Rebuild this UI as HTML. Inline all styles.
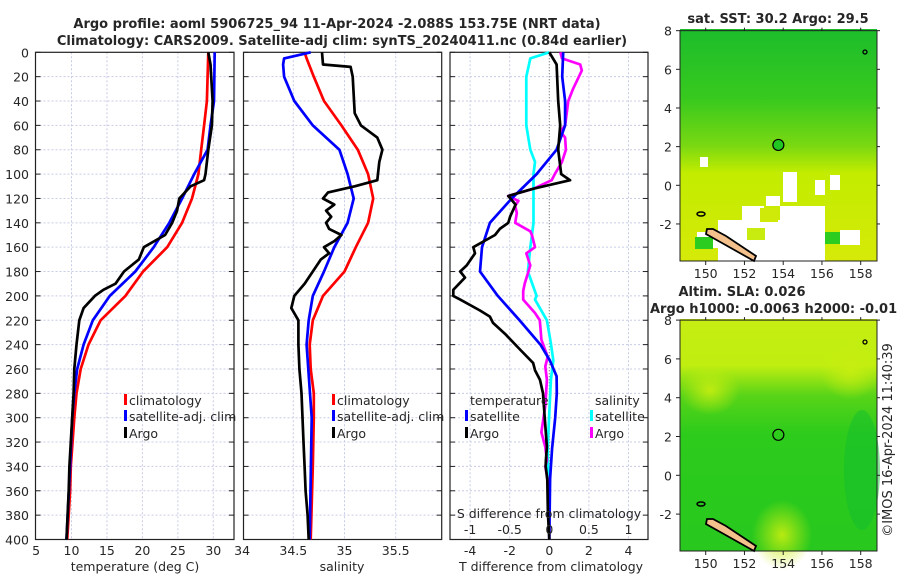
<!DOCTYPE html>
<html><head><meta charset="utf-8"><style>
html,body{margin:0;padding:0;background:#fff;}
svg{display:block;font-family:"DejaVu Sans","Liberation Sans",sans-serif;}
text{fill:#262626;}
</style></head><body>
<svg id="fig" width="900" height="580" viewBox="0 0 900 580">
<defs>
<linearGradient id="g1" x1="0" y1="0" x2="0" y2="1">
<stop offset="0" stop-color="#1cbd2c"/><stop offset="0.3" stop-color="#38c91e"/><stop offset="0.5" stop-color="#78d812"/><stop offset="0.62" stop-color="#c2ec00"/><stop offset="1" stop-color="#d6ea08"/>
</linearGradient>
<linearGradient id="g2" x1="0" y1="0" x2="0" y2="1">
<stop offset="0" stop-color="#c6ee12"/><stop offset="0.2" stop-color="#c0ee10"/><stop offset="0.33" stop-color="#58d418"/><stop offset="0.5" stop-color="#2ccb1c"/><stop offset="1" stop-color="#28c81e"/>
</linearGradient>
<radialGradient id="g2y" cx="0.5" cy="0.5" r="0.5"><stop offset="0" stop-color="#c8ee10" stop-opacity="0.9"/><stop offset="1" stop-color="#c8ee10" stop-opacity="0"/></radialGradient>
</defs>
<g id="titles">
<text x="337" y="28" font-size="13" font-weight="bold" text-anchor="middle" fill="#000">Argo profile: aoml 5906725_94 11-Apr-2024 -2.088S 153.75E (NRT data)</text>
<text x="342" y="45" font-size="13" font-weight="bold" text-anchor="middle" fill="#000">Climatology: CARS2009. Satellite-adj clim: synTS_20240411.nc (0.84d earlier)</text>
</g>
<g id="p1"></g>
<g id="p2"></g>
<g id="p3"></g>
<g id="m1">
<text x="778" y="23" font-size="13" font-weight="bold" text-anchor="middle" fill="#000">sat. SST: 30.2 Argo: 29.5</text>
<rect x="680" y="29" width="197" height="232" fill="url(#g1)"/>
<rect x="783" y="172" width="14" height="30" fill="#fff"/>
<rect x="742" y="206" width="22" height="18" fill="#fff"/>
<rect x="766" y="196" width="14" height="10" fill="#fff"/>
<rect x="718" y="220" width="82" height="41" fill="#fff"/>
<rect x="780" y="206" width="45" height="55" fill="#fff"/>
<rect x="700" y="157" width="8" height="10" fill="#fff"/>
<rect x="697" y="232" width="25" height="16" fill="#fff"/>
<rect x="815" y="180" width="10" height="15" fill="#fff"/>
<rect x="830" y="175" width="10" height="15" fill="#fff"/>
<rect x="840" y="230" width="20" height="15" fill="#fff"/>
<rect x="747" y="228" width="18" height="12" fill="#c9ec10"/>
<rect x="760" y="208" width="18" height="14" fill="#cfea08"/>
<rect x="695" y="237" width="18" height="12" fill="#2ccc20"/>
<rect x="825" y="232" width="15" height="12" fill="#2ccc20"/>
</g>
<g id="m2">
<text x="742" y="296" font-size="13" font-weight="bold" text-anchor="middle" fill="#000">Altim. SLA: 0.026</text>
<text x="650" y="313" font-size="13" font-weight="bold" fill="#000">Argo h1000: -0.0063 h2000: -0.01</text>
<rect x="680" y="319" width="197" height="232" fill="url(#g2)"/>
<ellipse cx="782" cy="535" rx="30" ry="35" fill="url(#g2y)"/>
<ellipse cx="850" cy="370" rx="30" ry="30" fill="url(#g2y)"/>
<ellipse cx="710" cy="390" rx="30" ry="25" fill="url(#g2y)"/>
<ellipse cx="862" cy="470" rx="18" ry="60" fill="#12be2e" opacity="0.5"/>
</g>
<text x="892" y="440" font-size="13" text-anchor="middle" transform="rotate(-90 892 440)">©IMOS 16-Apr-2024 11:40:39</text>
</svg>
<script>
// ---------- data ----------
const depthTicks=[0,20,40,60,80,100,120,140,160,180,200,220,240,260,280,300,320,340,360,380,400];
const tTickLabels=[5,10,15,20,25,30];
const sTickLabels=[34,34.5,35,35.5];
const dTTickLabels=[-4,-2,0,2,4];
const dSTickLabels=[-1,-0.5,0,0.5,1];
// temperature (deg C) profiles
const tClimDepth=[0,40,60,80,100,120,140,160,180,200,220,240,260,280,300,340,360,380,400];
const tClim=[29.3,29.1,28.7,28.3,27.9,27.0,25.6,23.5,20.1,17.6,14.1,12.4,11.3,10.7,10.4,9.9,9.8,9.6,9.4];
const tSatDepth=[0,40,60,80,100,120,140,160,180,200,220,240,260,280,300,340,400];
const tSat=[30.2,30.1,29.6,29.2,27.3,25.6,23.8,21.6,19.0,15.4,13.0,11.7,10.8,10.4,10.1,9.8,9.3];
const tArgoDepth=[0,10,40,60,80,100,105,110,120,130,140,150,160,170,180,190,195,200,210,220,240,260,280,300,320,340,360,400];
const tArgo=[29.3,29.6,29.9,29.8,29.3,28.9,28.7,26.8,25.2,24.9,24.2,23.2,20.2,19.5,17.4,16.2,14.5,13.3,11.7,11.1,10.7,10.4,10.3,10.1,9.9,9.7,9.6,9.3];
// salinity profiles
const sClimDepth=[0,5,20,40,60,80,100,120,140,160,180,200,220,240,260,280,300,340,400];
const sClim=[34.61,34.63,34.70,34.80,34.97,35.13,35.23,35.28,35.23,35.11,35.00,34.79,34.69,34.66,34.67,34.70,34.70,34.69,34.67];
const sSatDepth=[0,5,10,20,40,60,80,100,120,140,160,180,200,220,240,300,400];
const sSat=[34.67,34.41,34.40,34.41,34.51,34.69,34.95,35.03,35.09,35.03,34.90,34.80,34.69,34.65,34.63,34.68,34.66];
const sArgoDepth=[0,10,12,20,50,60,70,80,90,105,110,115,120,125,130,135,140,145,150,155,160,165,170,180,190,200,210,220,240,260,280,300,320,340,360,380,400];
const sArgo=[34.78,34.79,35.06,35.08,35.10,35.16,35.32,35.37,35.34,35.32,35.10,34.84,34.79,34.90,34.82,34.87,34.82,34.85,34.97,34.90,34.80,34.85,34.77,34.69,34.61,34.51,34.48,34.55,34.55,34.56,34.58,34.59,34.60,34.61,34.62,34.64,34.65];
// differences from climatology
const dTSatDepth=[0,20,40,60,80,100,120,140,160,180,200,220,240,253,266,280,300,325,350,400];
const dTSat=[0.7,0.65,0.8,0.8,0.37,-0.64,-1.9,-3.0,-3.4,-3.5,-2.6,-1.5,-0.45,0.03,0.37,0.38,0.3,0.14,0.04,0];
const dTArgoDepth=[0,10,40,60,80,100,105,112,118,125,135,140,145,150,160,165,175,180,185,195,200,203,212,217,222,231,244,255,261,269,280,302,324,335,340,351,378,400];
const dTArgo=[0,0.37,0.45,0.55,0.45,0.6,1.05,-0.8,-2.07,-1.7,-1.98,-2.07,-2.5,-2.74,-3.84,-3.75,-4.17,-4.5,-4.26,-4.85,-4.85,-4.5,-3.5,-3.0,-2.85,-2.24,-1.48,-0.82,-0.72,-0.47,-0.32,-0.22,-0.12,-0.17,-0.18,-0.1,-0.07,0];
const dSSatDepth=[0,5,20,60,80,90,100,120,140,160,180,200,203,220,239,253,269,296,324,400];
const dSSat=[0,-0.24,-0.29,-0.29,-0.24,-0.18,-0.2,-0.2,-0.2,-0.24,-0.27,-0.16,-0.18,-0.03,0.02,0.05,0.02,0,-0.02,0];
const dSArgoDepth=[0,5,10,15,30,40,60,65,70,80,90,100,105,112,118,122,126,132,140,147,150,160,165,175,190,196,203,214,220,236,250,258,269,290,312,324,335,340,351,378,400];
const dSArgo=[0.14,0.16,0.39,0.41,0.30,0.24,0.2,0.14,0.2,0.21,0.16,0.07,0.03,-0.2,-0.52,-0.39,-0.43,-0.41,-0.43,-0.24,-0.22,-0.18,-0.29,-0.24,-0.31,-0.33,-0.33,-0.18,-0.12,-0.1,-0.02,-0.05,-0.03,-0.05,-0.1,-0.05,-0.03,-0.05,-0.02,0,0];
// map axes
const lonTicks=[150,152,154,156,158];
const latTicks=[-2,0,2,4,6,8];
const floatLon=[153.75];
const floatLat=[2.088];

// ---------- scales ----------
const NS='http://www.w3.org/2000/svg';
const yTop=52.3, yBot=539.5;
const yD=d=>yTop+d*(yBot-yTop)/400;
const xT=t=>71.5+(t-10)*7.09;
const xS=s=>293.3+(s-34.5)*102.4;
const xDT=v=>549.3+v*19.8;
const xDS=v=>549.3+v*79.2;
const mx=lon=>705.7+(lon-150)*19.375;
const my1=lat=>185.3-lat*19.33;
const my2=lat=>475.3-lat*19.4;

function mk(tag,attrs,parent,txt){const e=document.createElementNS(NS,tag);for(const k in attrs)e.setAttribute(k,attrs[k]);if(txt!==undefined)e.textContent=txt;parent.appendChild(e);return e;}

function panel(g,x0,x1,gridXs,yLabels){
  depthTicks.forEach(d=>{
    const y=yD(d);
    if(d>0&&d<400){const l=mk('line',{x1:x0,x2:x1,y1:y,y2:y,stroke:'#c8cce6','stroke-width':1,'stroke-dasharray':'2,2'},g);
    
    }
    mk('line',{x1:x0,x2:x0+5,y1:y,y2:y,stroke:'#222'},g);
    mk('line',{x1:x1-5,x2:x1,y1:y,y2:y,stroke:'#222'},g);
    if(yLabels){const t=mk('text',{x:29,y:y+5,'font-size':12.5,'text-anchor':'end'},g,d);
    
    }
  });
  gridXs.forEach(x=>{
    const l=mk('line',{x1:x,x2:x,y1:yTop,y2:yBot,stroke:'#c8cce6','stroke-dasharray':'2,2'},g);
    
    
  });
  const r=mk('rect',{x:x0,y:yTop,width:x1-x0,height:yBot-yTop,fill:'none',stroke:'#222','stroke-width':1.2},g);
  
  
}
function line(g,ds,vs,xf,color,name){
  const pts=ds.map((d,i)=>xf(vs[i]).toFixed(1)+','+yD(d).toFixed(1)).join(' ');
  const p=mk('polyline',{points:pts,fill:'none',stroke:color,'stroke-width':2.7,'stroke-linejoin':'round'},g);
  
  
}
function legend(g,x,y,color,label,name){
  mk('rect',{x:x-5,y:y-11,width:3,height:11,fill:color},g);
  const t=mk('text',{x:x,y:y,'font-size':12.5},g,label);
  
  
}
function xlabels(g,vals,xf,y,fmt){
  vals.forEach(v=>{const t=mk('text',{x:xf(v),y:y,'font-size':12.5,'text-anchor':'middle'},g,fmt?fmt(v):v);
  
  });
}

// panel 1
const p1=document.getElementById('p1');
panel(p1,35.5,234,[10,15,20,25,30].map(xT),true);
line(p1,tClimDepth,tClim,xT,'#ff0000','temp-climatology-line');
line(p1,tSatDepth,tSat,xT,'#0000ff','temp-satellite-line');
line(p1,tArgoDepth,tArgo,xT,'#000000','temp-argo-line');
xlabels(p1,tTickLabels,xT,555);
mk('text',{x:135,y:571,'font-size':12.5,'text-anchor':'middle'},p1,'temperature (deg C)');
legend(p1,129,405,'#ff0000','climatology','legend-climatology');
legend(p1,129,421,'#0000ff','satellite-adj. clim','legend-satellite');
legend(p1,129,438,'#000000','Argo','legend-argo');

// panel 2
const p2=document.getElementById('p2');
panel(p2,243.5,441.7,[34.5,35,35.5].map(xS),false);
line(p2,sClimDepth,sClim,xS,'#ff0000','sal-climatology-line');
line(p2,sSatDepth,sSat,xS,'#0000ff','sal-satellite-line');
line(p2,sArgoDepth,sArgo,xS,'#000000','sal-argo-line');
xlabels(p2,sTickLabels,xS,555);
mk('text',{x:342,y:571,'font-size':12.5,'text-anchor':'middle'},p2,'salinity');
legend(p2,337,405,'#ff0000','climatology','legend-climatology-2');
legend(p2,337,421,'#0000ff','satellite-adj. clim','legend-satellite-2');
legend(p2,337,438,'#000000','Argo','legend-argo-2');

// panel 3
const p3=document.getElementById('p3');
panel(p3,450,648,[-4,-2,2,4].map(xDT),false);
mk('line',{x1:xDT(0),x2:xDT(0),y1:yTop,y2:yBot,stroke:'#556','stroke-dasharray':'1,2'},p3);
line(p3,dSSatDepth,dSSat,xDS,'#00ffff','sal-diff-satellite-line');
line(p3,dSArgoDepth,dSArgo,xDS,'#ff00ff','sal-diff-argo-line');
line(p3,dTSatDepth,dTSat,xDT,'#0000ff','temp-diff-satellite-line');
line(p3,dTArgoDepth,dTArgo,xDT,'#000000','temp-diff-argo-line');
xlabels(p3,dTTickLabels,xDT,555);
xlabels(p3,dSTickLabels,xDS,534);
mk('text',{x:549,y:518,'font-size':12.5,'text-anchor':'middle'},p3,'S difference from climatology');
mk('text',{x:551,y:571,'font-size':12.5,'text-anchor':'middle'},p3,'T difference from climatology');
mk('text',{x:470,y:405,'font-size':12.5},p3,'temperature');
mk('text',{x:595,y:405,'font-size':12.5},p3,'salinity');
legend(p3,470,421,'#0000ff','satellite','legend-temp-satellite');
legend(p3,470,438,'#000000','Argo','legend-temp-argo');
legend(p3,595,421,'#00ffff','satellite','legend-sal-satellite');
legend(p3,595,438,'#ff00ff','Argo','legend-sal-argo');

// maps
function mapAxes(g,my,yb,circleFill){
  const top=my(8);
  const r=mk('rect',{x:680,y:top,width:197,height:yb-top,fill:'none',stroke:'#222'},g);
  
  
  lonTicks.forEach(l=>{
    mk('line',{x1:mx(l),x2:mx(l),y1:yb,y2:yb+4,stroke:'#222'},g);
    mk('line',{x1:mx(l),x2:mx(l),y1:top,y2:top-3,stroke:'#222'},g);
    const t=mk('text',{x:mx(l),y:yb+17,'font-size':12.5,'text-anchor':'middle'},g,l);
    
    
  });
  latTicks.forEach(l=>{
    mk('line',{x1:676,x2:680,y1:my(l),y2:my(l),stroke:'#222'},g);
    mk('line',{x1:877,x2:880,y1:my(l),y2:my(l),stroke:'#222'},g);
    const t=mk('text',{x:672,y:my(l)+5,'font-size':12.5,'text-anchor':'end'},g,l);
    
    
  });
  const off=my(0)-my1(0);
  const isl=mk('polygon',{points:[[707,229],[713,229],[726,236],[741,246],[756,256],[754,261],[738,252],[722,243],[706,234]].map(p=>p[0]+','+(p[1]+off)).join(' '),fill:'#f4c08c',stroke:'#000','stroke-width':1.8},g);
  
  
  mk('ellipse',{cx:701,cy:214+off,rx:4,ry:2,fill:'none',stroke:'#000','stroke-width':1.5},g);
  mk('circle',{cx:865,cy:52+off,r:2,fill:'none',stroke:'#000','stroke-width':1.3},g);
  const c=mk('circle',{cx:mx(floatLon[0]),cy:my(floatLat[0]),r:5.5,fill:circleFill,stroke:'#000','stroke-width':1.2},g);
  
  
}
mapAxes(document.getElementById('m1'),my1,261,'#22c822');
mapAxes(document.getElementById('m2'),my2,551,'none');
</script>
</body></html>
